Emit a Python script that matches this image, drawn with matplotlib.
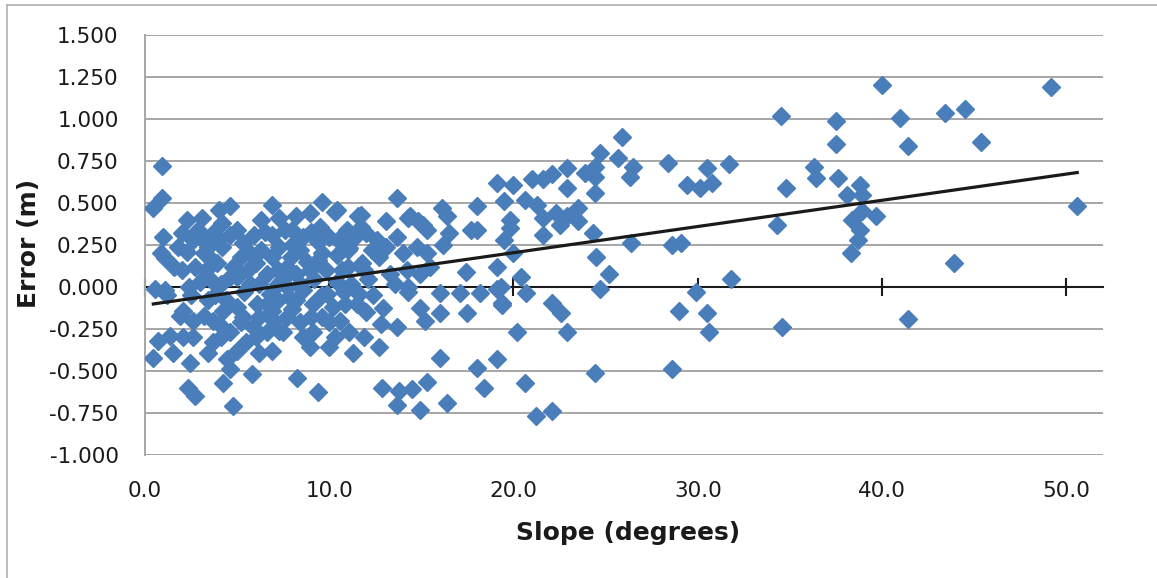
import numpy as np
import matplotlib
matplotlib.use("Agg")
from matplotlib import pyplot as plt
from matplotlib.lines import Line2D

# slope (degrees) vs error (m), grouped roughly by slope
slope_deg = [
    # 0 - 3
    0.92, 0.92, 0.43, 0.98, 0.87, 1.08, 0.54, 1.10, 2.40, 3.00,
    0.70, 0.43, 1.50, 1.36, 2.06, 2.44, 2.60, 2.33, 2.71, 1.90,
    2.06, 3.40, 2.30, 3.10, 2.90, 2.00, 1.80, 2.30, 2.60, 1.20,
    2.60, 3.20,
    # 3 - 8
    4.00, 4.60, 4.20, 3.70, 4.60, 5.00, 4.20, 3.40, 3.90, 5.20,
    4.60, 3.60, 3.40, 4.45, 4.60, 4.23, 4.77, 5.80, 3.70, 4.23,
    5.20, 4.60, 3.70, 5.86, 6.60, 6.20, 6.90, 7.30, 6.90, 7.70,
    6.07, 6.90, 6.30, 7.30, 6.90, 5.90, 5.70, 6.90, 7.30, 6.60,
    7.20, 8.00, 7.70, 8.95, 8.40, 8.95, 7.70,
    # 8 - 12
    9.60, 10.30, 11.55, 9.50, 10.95, 10.00, 9.60, 11.10, 10.70, 11.80,
    8.24, 9.38, 8.95, 10.00, 11.30, 11.10, 10.00, 9.60, 10.60, 9.10,
    7.50, 8.40, 10.85, 11.50,
    # 10 - 20
    13.70, 13.10, 14.30, 15.10, 12.60, 13.70, 14.75, 12.70, 14.00, 15.30,
    13.30, 14.90, 13.55, 14.30, 14.40, 14.80, 13.10, 14.20, 11.70, 11.70,
    10.40, 11.00, 11.00, 12.90, 13.70, 14.90, 15.20, 16.00, 17.50, 16.00,
    17.10, 18.20, 19.40, 19.10, 20.20, 12.70, 12.85, 13.80, 14.50, 15.30,
    13.70, 14.90, 16.40, 18.40, 16.00, 18.00, 19.10, 14.30,
    19.10, 19.96, 19.50, 19.80, 19.50, 18.00, 18.00, 17.70, 16.50, 16.10,
    16.40, 15.30, 16.20, 15.45, 17.40, 19.10,
    # 20 - 32
    24.70, 25.70, 25.90, 26.50, 26.30, 24.40, 23.90, 24.40, 22.90, 22.10,
    21.60, 21.00, 22.90, 24.40, 20.60, 21.30, 21.60, 22.30, 22.50, 23.50,
    23.50, 22.90, 19.80, 21.60, 24.30, 26.40, 28.60, 29.10, 20.00, 24.50,
    25.20, 20.40, 19.30, 20.70, 24.70, 19.40, 22.10, 22.60, 31.80, 29.90,
    29.00, 30.50, 30.60, 22.90, 24.40, 28.60, 20.60, 21.20, 22.10, 28.40,
    29.40, 30.10, 30.50, 30.80, 31.70,
    # 34 - 51
    40.0, 49.2, 34.5, 37.5, 41.0, 43.4, 44.5, 37.5, 41.4, 45.4,
    34.8, 36.3, 36.4, 37.6, 38.1, 38.8, 38.9, 38.9, 39.7, 38.4,
    38.8, 38.7, 38.3, 34.3, 50.6, 43.9, 34.6, 41.4,
    # dense cluster 2 - 13
    2.0, 2.7, 3.3, 2.5, 3.8, 4.1, 5.0, 5.4, 5.0, 5.6,
    6.2, 6.3, 5.3, 6.0, 6.8, 7.5, 7.9, 8.2, 8.6, 8.2,
    8.8, 9.2, 9.4, 9.1, 9.8, 9.9, 10.4, 10.4, 10.2, 11.2,
    11.6, 12.1, 12.0, 12.3, 11.4, 8.6, 7.6, 8.2, 9.0, 5.5,
    4.1, 5.0, 6.2, 7.0, 8.0, 8.6, 3.0, 3.9, 4.8, 6.5,
    12.4, 12.8, 11.9, 10.3, 9.6,
    1.6, 3.5, 4.4, 5.7, 6.6, 7.2, 7.8, 8.4, 9.0, 9.4,
    10.8, 11.0, 11.9, 5.3, 4.0, 6.0, 7.2, 8.0, 10.5, 3.2,
    12.0,
]
error_m = [
    # 0 - 3
    0.72, 0.53, 0.47, 0.30, 0.20, 0.17, -0.01, -0.02, 0.00, 0.03,
    -0.32, -0.42, -0.39, -0.29, -0.30, -0.45, -0.30, -0.60, -0.65, -0.17,
    -0.14, -0.08, 0.40, 0.41, 0.34, 0.32, 0.24, 0.21, 0.28, -0.05,
    -0.20, -0.17,
    # 3 - 8
    0.46, 0.48, 0.38, 0.32, 0.31, 0.34, 0.24, 0.24, 0.14, 0.18,
    0.06, 0.04, -0.39, -0.43, -0.49, -0.57, -0.71, -0.52, -0.20, -0.14,
    -0.21, -0.27, -0.33, -0.24, -0.27, -0.39, -0.38, -0.26, -0.14, -0.18,
    -0.10, 0.49, 0.40, 0.41, 0.31, 0.31, 0.20, 0.18, 0.24, 0.08,
    0.10, 0.34, 0.12, 0.44, 0.22, 0.10, 0.00,
    # 8 - 12
    0.505, 0.445, 0.42, 0.36, 0.34, 0.30, 0.20, 0.23, 0.10, 0.14,
    -0.54, -0.625, -0.36, -0.36, -0.39, -0.27, -0.21, -0.18, -0.20, -0.27,
    -0.27, -0.21, -0.10, -0.10,
    # 10 - 20
    0.53, 0.39, 0.41, 0.37, 0.28, 0.30, 0.24, 0.18, 0.20, 0.20,
    0.08, 0.08, 0.02, 0.00, 0.42, 0.39, 0.24, 0.10, 0.43, 0.36,
    0.46, 0.33, 0.22, -0.125, -0.24, -0.125, -0.20, -0.155, -0.155, -0.035,
    -0.035, -0.035, -0.11, -0.01, -0.27, -0.36, -0.60, -0.62, -0.61, -0.565,
    -0.70, -0.73, -0.69, -0.60, -0.42, -0.48, -0.43, -0.03,
    0.62, 0.61, 0.51, 0.40, 0.28, 0.48, 0.34, 0.34, 0.32, 0.47,
    0.42, 0.34, 0.25, 0.12, 0.09, 0.12,
    # 20 - 32
    0.80, 0.77, 0.89, 0.715, 0.655, 0.715, 0.68, 0.655, 0.71, 0.67,
    0.64, 0.64, 0.59, 0.56, 0.52, 0.49, 0.41, 0.44, 0.37, 0.47,
    0.39, 0.42, 0.35, 0.31, 0.32, 0.26, 0.25, 0.26, 0.20, 0.18,
    0.08, 0.06, 0.00, -0.035, -0.01, -0.095, -0.095, -0.155, 0.05, -0.03,
    -0.14, -0.155, -0.27, -0.27, -0.51, -0.49, -0.57, -0.77, -0.74, 0.74,
    0.61, 0.59, 0.71, 0.62, 0.73,
    # 34 - 51
    1.20, 1.19, 1.02, 0.99, 1.005, 1.035, 1.06, 0.85, 0.84, 0.865,
    0.59, 0.715, 0.65, 0.65, 0.55, 0.61, 0.55, 0.45, 0.42, 0.40,
    0.34, 0.28, 0.20, 0.37, 0.48, 0.14, -0.24, -0.19,
    # dense cluster 2 - 13
    0.10, 0.12, 0.10, -0.05, -0.05, 0.02, 0.06, -0.03, -0.12, 0.10,
    0.02, 0.22, 0.26, 0.14, -0.04, 0.05, 0.18, 0.08, -0.02, -0.08,
    0.15, 0.05, 0.27, -0.10, 0.10, -0.04, 0.03, 0.19, -0.12, 0.02,
    -0.04, 0.05, -0.15, 0.22, 0.30, 0.30, 0.34, 0.42, 0.33, -0.33,
    -0.30, -0.38, -0.18, -0.20, -0.13, -0.30, 0.30, 0.28, 0.12, 0.33,
    -0.05, -0.22, -0.30, -0.30, -0.05,
    0.12, 0.18, -0.08, 0.02, -0.10, -0.08, -0.06, 0.02, -0.18, 0.16,
    -0.03, 0.12, 0.10, -0.18, -0.22, -0.30, 0.02, 0.25, 0.28, 0.20,
    0.32,
]

# linear trendline as drawn on the chart
trend_slope = 0.0156
trend_intercept = -0.108
trend_x = [0.45, 50.6]

x_ticks = [0, 10, 20, 30, 40, 50]
y_ticks = [-1.0, -0.75, -0.5, -0.25, 0.0, 0.25, 0.5, 0.75, 1.0, 1.25, 1.5]

W, H = 1157, 578
fig = plt.figure(figsize=(W / 100, H / 100), dpi=100)
ax = fig.add_axes([145 / W, 1 - 455 / H, (1103 - 145) / W, 420 / H])

ax.plot(slope_deg, error_m, linestyle="none", marker="D", ms=9.5,
        color="#4a7ebb", mec="#4a7ebb", zorder=3)
tx = np.array(trend_x)
ax.plot(tx, trend_slope * tx + trend_intercept, color="#1a1a1a", lw=2.3, zorder=4)

ax.set_xlim(0, 52)
ax.set_ylim(-1.0, 1.5)
ax.set_yticks(y_ticks)
ax.set_yticklabels([f"{v:.3f}" for v in y_ticks])
ax.yaxis.grid(True, color="#a6a6a6", lw=1.4)
ax.set_axisbelow(True)
ax.tick_params(axis="y", length=0, pad=19, labelsize=15.5, labelcolor="#1a1a1a")

for s in ["top", "right"]:
    ax.spines[s].set_visible(False)
ax.spines["left"].set_color("#a6a6a6")
ax.spines["left"].set_linewidth(1.4)
ax.spines["bottom"].set_position(("data", 0))
ax.spines["bottom"].set_color("#1a1a1a")
ax.spines["bottom"].set_linewidth(1.5)
ax.spines["bottom"].set_zorder(2)
ax.set_xticks(x_ticks)
ax.tick_params(axis="x", direction="inout", length=13, width=1.5,
               color="#1a1a1a", labelbottom=False)

# tick labels sit at the bottom of the plot area, like Excel's "low" labels
sec = ax.secondary_xaxis(0.0)
sec.set_xticks(x_ticks)
sec.set_xticklabels([f"{v:.1f}" for v in x_ticks])
sec.tick_params(length=0, pad=19, labelsize=15.5, labelcolor="#1a1a1a")
sec.spines["bottom"].set_visible(False)

fig.text(628 / W, 1 - 533 / H, "Slope (degrees)", ha="center", va="center",
         fontsize=18, fontweight="bold", color="#1a1a1a")
fig.text(29 / W, 1 - 243 / H, "Error (m)", ha="center", va="center",
         rotation=90, fontsize=18, fontweight="bold", color="#1a1a1a")

# outer chart frame
fig.add_artist(Line2D([7 / W, 7 / W], [0, 1 - 5 / H], color="#b0b0b0", lw=1.2))
fig.add_artist(Line2D([7 / W, 1], [1 - 5 / H, 1 - 5 / H], color="#b0b0b0", lw=1.2))

fig.savefig("out.png", dpi=100)
